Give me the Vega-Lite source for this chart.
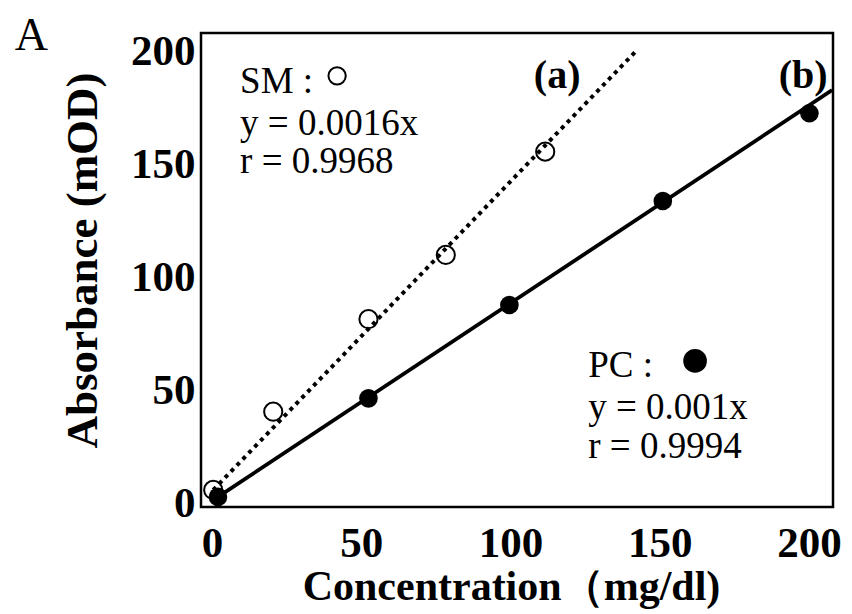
{
  "$schema": "https://vega.github.io/schema/vega-lite/v6.json",
  "width": 632,
  "height": 474,
  "autosize": {"type": "none"},
  "padding": {"left": 201, "top": 33, "right": 19, "bottom": 107},
  "background": "white",
  "config": {
    "view": {"stroke": "black", "strokeWidth": 2.5},
    "font": "Liberation Serif"
  },
  "datasets": {
    "pts": [
      {"series": "PC", "conc": 2.0, "abs": 2.7},
      {"series": "PC", "conc": 52.4, "abs": 46.4},
      {"series": "PC", "conc": 99.6, "abs": 87.8},
      {"series": "PC", "conc": 151.0, "abs": 133.9},
      {"series": "PC", "conc": 200.1, "abs": 172.8},
      {"series": "SM", "conc": 0.4, "abs": 5.8},
      {"series": "SM", "conc": 20.5, "abs": 40.5},
      {"series": "SM", "conc": 52.4, "abs": 81.5},
      {"series": "SM", "conc": 78.3, "abs": 110.0},
      {"series": "SM", "conc": 111.6, "abs": 155.8}
    ],
    "fits": [
      {"series": "PC", "conc": 2.0, "abs": 2.7},
      {"series": "PC", "conc": 207.7, "abs": 183.1},
      {"series": "SM", "conc": 0.4, "abs": 5.8},
      {"series": "SM", "conc": 141.7, "abs": 199.9}
    ],
    "notes": [
      {"label": "SM :", "conc": 9.4, "abs": 181.7},
      {"label": "y = 0.0016x", "conc": 9.4, "abs": 163.2},
      {"label": "r = 0.9968", "conc": 9.4, "abs": 146.3},
      {"label": "PC :", "conc": 126.0, "abs": 56.0},
      {"label": "y = 0.001x", "conc": 126.0, "abs": 37.25},
      {"label": "r = 0.9994", "conc": 126.0, "abs": 20.0}
    ],
    "tags": [
      {"label": "(a)", "conc": 115.6, "abs": 184.0},
      {"label": "(b)", "conc": 198.0, "abs": 184.0}
    ],
    "keys": [
      {"series": "SM", "conc": 41.9, "abs": 189.4},
      {"series": "PC", "conc": 161.8, "abs": 63.0}
    ],
    "panel": [
      {"label": "A", "conc": -60.5, "abs": 200.9}
    ]
  },
  "encoding": {
    "x": {
      "field": "conc", "type": "quantitative",
      "scale": {"domain": [-3.69, 208], "nice": false, "zero": false},
      "axis": {
        "values": [0, 50, 100, 150, 200],
        "grid": false, "ticks": false, "domain": false,
        "labelFont": "Liberation Serif", "labelFontWeight": "bold", "labelFontSize": 43,
        "labelColor": "black", "labelPadding": 15, "labelFlush": false,
        "title": "Concentration（mg/dl)",
        "titleFont": "Liberation Serif", "titleFontWeight": "bold", "titleFontSize": 42,
        "titleColor": "black",
        "titleX": 310, "titleY": 79, "titleAlign": "center", "titleBaseline": "middle"
      }
    },
    "y": {
      "field": "abs", "type": "quantitative",
      "scale": {"domain": [-1.77, 208.4], "nice": false, "zero": false},
      "axis": {
        "values": [0, 50, 100, 150, 200],
        "grid": false, "ticks": false, "domain": false,
        "labelFont": "Liberation Serif", "labelFontWeight": "bold", "labelFontSize": 43,
        "labelColor": "black", "labelPadding": 6, "labelFlush": false,
        "title": "Absorbance (mOD)",
        "titleFont": "Liberation Serif", "titleFontWeight": "bold", "titleFontSize": 45,
        "titleColor": "black", "titleAngle": -90,
        "titleX": -119, "titleY": 227, "titleAlign": "center", "titleBaseline": "middle"
      }
    }
  },
  "layer": [
    {
      "data": {"name": "fits"},
      "transform": [{"filter": "datum.series === 'PC'"}],
      "mark": {"type": "line", "color": "black", "strokeWidth": 3.8, "clip": true}
    },
    {
      "data": {"name": "fits"},
      "transform": [{"filter": "datum.series === 'SM'"}],
      "mark": {"type": "line", "color": "black", "strokeWidth": 4, "strokeDash": [4, 4.5], "clip": true}
    },
    {
      "data": {"name": "pts"},
      "transform": [{"filter": "datum.series === 'SM'"}],
      "mark": {"type": "point", "shape": "circle", "filled": false, "stroke": "black", "strokeWidth": 2, "size": 330, "opacity": 1}
    },
    {
      "data": {"name": "pts"},
      "transform": [{"filter": "datum.series === 'PC'"}],
      "mark": {"type": "point", "shape": "circle", "filled": true, "color": "black", "size": 346, "opacity": 1}
    },
    {
      "data": {"name": "keys"},
      "transform": [{"filter": "datum.series === 'SM'"}],
      "mark": {"type": "point", "shape": "circle", "filled": false, "stroke": "black", "strokeWidth": 2, "size": 300, "opacity": 1}
    },
    {
      "data": {"name": "keys"},
      "transform": [{"filter": "datum.series === 'PC'"}],
      "mark": {"type": "point", "shape": "circle", "filled": true, "color": "black", "size": 560, "opacity": 1}
    },
    {
      "data": {"name": "notes"},
      "mark": {"type": "text", "align": "left", "baseline": "alphabetic", "font": "Liberation Serif", "fontSize": 37, "color": "black"},
      "encoding": {"text": {"field": "label"}}
    },
    {
      "data": {"name": "tags"},
      "mark": {"type": "text", "align": "center", "baseline": "alphabetic", "font": "Liberation Serif", "fontWeight": "bold", "fontSize": 40, "color": "black"},
      "encoding": {"text": {"field": "label"}}
    },
    {
      "data": {"name": "panel"},
      "mark": {"type": "text", "align": "center", "baseline": "alphabetic", "font": "Liberation Serif", "fontSize": 46, "color": "black"},
      "encoding": {"text": {"field": "label"}}
    }
  ]
}
